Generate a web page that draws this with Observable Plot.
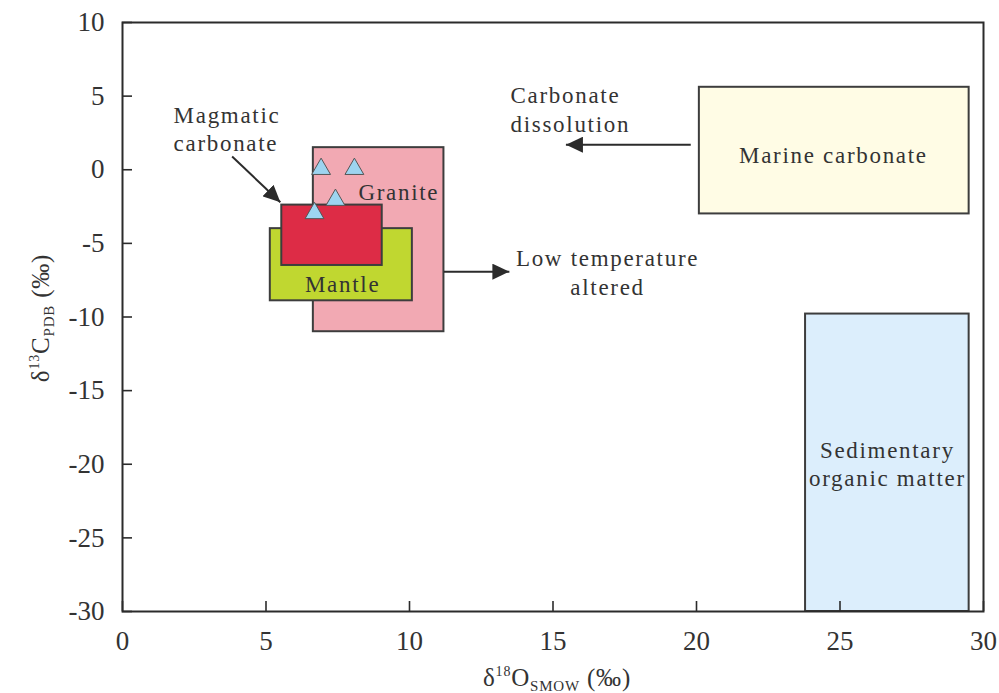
<!DOCTYPE html>
<html><head><meta charset="utf-8">
<script src="https://cdn.jsdelivr.net/npm/d3@7"></script>
<script src="https://cdn.jsdelivr.net/npm/@observablehq/plot@0.6"></script>
<style>
body{margin:0;background:#fff}
#chart svg text{font-family:"Liberation Serif","Times New Roman",serif}
#chart g[aria-label="text"] text{letter-spacing:1.7px}
#chart text.axis-title{letter-spacing:0.8px}
</style>
</head><body><div id="chart"></div>
<script>
// Source fields (boxes) in δ18O (x) / δ13C (y) space
const regionNames = ["Granite","Mantle","Magmatic carbonate","Marine carbonate","Sedimentary organic matter"];
const regionX1 = [6.65, 5.15, 5.55, 20.1, 23.8];
const regionX2 = [11.2, 10.1, 9.05, 29.5, 29.5];
const regionY1 = [-11.0, -8.9, -6.5, -3.0, -30];
const regionY2 = [1.5, -4.0, -2.4, 5.6, -9.8];
const regionFills = ["#f2a9b3","#c0d730","#dd2c46","#fffce5","#dceefc"];

// Samples (triangles)
const sampleX = [6.92, 8.08, 7.42, 6.69];
const sampleY = [0.05, 0.05, -2.05, -2.95];

// Annotation labels
const labelText = ["Magmatic\ncarbonate","Granite","Mantle","Carbonate\ndissolution","Marine carbonate","Low temperature\naltered","Sedimentary\norganic matter"];
const labelX = [1.78, 8.22, 7.67, 13.52, 24.77, 16.9, 26.65];
const labelY = [2.85, -1.4, -7.65, 4.15, 1.1, -6.92, -19.9];
const labelAnchor = ["start","start","middle","start","middle","middle","middle"];

// Arrows
const arrowX1 = [3.82, 19.8, 11.2];
const arrowY1 = [0.9, 1.7, -6.92];
const arrowX2 = [5.5, 15.45, 13.48];
const arrowY2 = [-2.21, 1.7, -6.92];

// Ticks
const xTicks = [0,5,10,15,20,25,30];
const yTicks = [10,5,0,-5,-10,-15,-20,-25,-30];

const W = 999, H = 693, mL = 122, mR = 16, mT = 22, mB = 82;
const plotW = W - mL - mR, plotH = H - mT - mB;
const FONT = "Liberation Serif";
const INK = "#333";

const regions = regionNames.map((name, i) => ({name, x1: regionX1[i], x2: regionX2[i], y1: regionY1[i], y2: regionY2[i], fill: regionFills[i]}));
const samples = sampleX.map((x, i) => ({x, y: sampleY[i]}));
const labels = labelText.map((text, i) => ({text, x: labelX[i], y: labelY[i], anchor: labelAnchor[i]}));
const arrows = arrowX1.map((x1, i) => ({x1, y1: arrowY1[i], x2: arrowX2[i], y2: arrowY2[i]}));

function filledArrow(color, context) {
  const m = d3.create("svg:marker")
    .attr("viewBox", "-17 -8 17 16")
    .attr("markerWidth", 17)
    .attr("markerHeight", 16)
    .attr("markerUnits", "userSpaceOnUse")
    .attr("orient", "auto")
    .attr("refX", 0).attr("refY", 0)
    .attr("fill", color)
    .attr("stroke", "none");
  m.append("path").attr("d", "M-17,-8L0,0L-17,8Z");
  return m.node();
}

const plot = Plot.plot({
  width: W, height: H,
  marginLeft: mL, marginRight: mR, marginTop: mT, marginBottom: mB,
  x: {domain: [0, 30]},
  y: {domain: [-30, 10]},
  color: {type: "identity"},
  style: {fontFamily: FONT, fontSize: "24px", color: INK, background: "#fff"},
  marks: [
    Plot.rect(regions, {x1: "x1", x2: "x2", y1: "y1", y2: "y2", fill: "fill", stroke: "#3d3d3d", strokeWidth: 2}),
    Plot.link(arrows, {x1: "x1", y1: "y1", x2: "x2", y2: "y2", stroke: "#2b2b2b", strokeWidth: 2, markerEnd: filledArrow}),
    Plot.dot(samples, {x: "x", y: "y", symbol: "triangle", r: 7, fill: "#9dd4f0", stroke: "#555", strokeWidth: 1}),
    Plot.text(labels.filter(d => d.anchor === "start"), {x: "x", y: "y", text: "text", textAnchor: "start", fill: INK, fontFamily: FONT, fontSize: 23, lineHeight: 1.25}),
    Plot.text(labels.filter(d => d.anchor === "middle"), {x: "x", y: "y", text: "text", textAnchor: "middle", fill: INK, fontFamily: FONT, fontSize: 23, lineHeight: 1.25}),
    Plot.frame({stroke: "#2b2b2b", strokeWidth: 2}),
    Plot.tickX(xTicks, {x: d => d, insetTop: plotH - 10, stroke: "#2b2b2b", strokeWidth: 1.6}),
    Plot.tickY(yTicks, {y: d => d, insetRight: plotW - 10, stroke: "#2b2b2b", strokeWidth: 1.6}),
    Plot.axisX({ticks: xTicks, tickFormat: d => String(d), tickSize: 0, tickPadding: 19, label: null, fontFamily: FONT, fontSize: 27, fill: INK}),
    Plot.axisY({ticks: yTicks, tickFormat: d => String(d), tickSize: 0, tickPadding: 18, label: null, fontFamily: FONT, fontSize: 27, fill: INK})
  ]
});

const svg = d3.select(plot);
// y-axis title: δ13C_PDB (‰)
const yt = svg.append("text")
  .attr("class", "axis-title")
  .attr("transform", "translate(49,318) rotate(-90)")
  .attr("text-anchor", "middle")
  .attr("fill", INK).attr("font-family", FONT).attr("font-size", 25);
yt.append("tspan").text("δ");
yt.append("tspan").attr("font-size", 14).attr("dy", -10).text("13");
yt.append("tspan").attr("dy", 10).text("C");
yt.append("tspan").attr("font-size", 15).attr("dy", 5).text("PDB");
yt.append("tspan").attr("dy", -5).text(" (‰)");

// x-axis title: δ18O_SMOW (‰)
const xt = svg.append("text")
  .attr("class", "axis-title")
  .attr("transform", "translate(557,686)")
  .attr("text-anchor", "middle")
  .attr("fill", INK).attr("font-family", FONT).attr("font-size", 25);
xt.append("tspan").text("δ");
xt.append("tspan").attr("font-size", 14).attr("dy", -10).text("18");
xt.append("tspan").attr("dy", 10).text("O");
xt.append("tspan").attr("font-size", 15).attr("dy", 5).text("SMOW");
xt.append("tspan").attr("dy", -5).text(" (‰)");

document.getElementById("chart").append(plot);
</script>
</body></html>
